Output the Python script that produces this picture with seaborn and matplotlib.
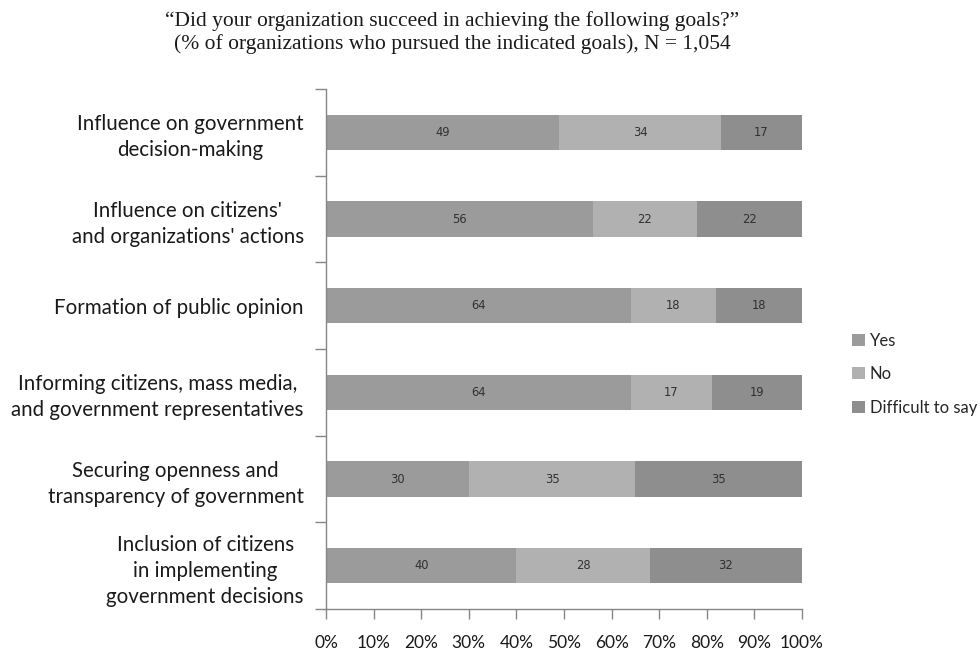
import matplotlib
matplotlib.use("Agg")
import matplotlib.pyplot as plt
import seaborn as sns
import pandas as pd
import numpy as np
from matplotlib.patches import Patch

categories = [
    "Influence on government\ndecision-making",
    "Influence on citizens'\nand organizations' actions",
    "Formation of public opinion",
    "Informing citizens, mass media,\nand government representatives",
    "Securing openness and\ntransparency of government",
    "Inclusion of citizens\nin implementing\ngovernment decisions",
]
yes = [49, 56, 64, 64, 30, 40]
no = [34, 22, 18, 17, 35, 28]
difficult = [17, 22, 18, 19, 35, 32]
series_names = ["Yes", "No", "Difficult to say"]
colors = ["#9b9b9b", "#b1b1b1", "#8e8e8e"]
x_ticks = [0, 10, 20, 30, 40, 50, 60, 70, 80, 90, 100]
title_lines = ["\u201cDid your organization succeed in achieving the following goals?\u201d",
               "(% of organizations who pursued the indicated goals), N = 1,054"]

sns.set_theme(style="white")
plt.rcParams['font.family'] = ['Lato', 'DejaVu Sans']

df = pd.DataFrame({"cat": categories, "Yes": yes, "No": no, "Difficult to say": difficult})
df["c1"] = df["Yes"]
df["c2"] = df["Yes"] + df["No"]
df["c3"] = df["c2"] + df["Difficult to say"]

fig = plt.figure(figsize=(9.8, 6.52), dpi=100)
ax = fig.add_axes([326 / 980, 1 - 609 / 652, 476 / 980, (609 - 89) / 652])

for col, color in zip(["c3", "c2", "c1"], colors[::-1]):
    sns.barplot(data=df, y="cat", x=col, orient="h", color=color, width=0.41,
                ax=ax, saturation=1, linewidth=0, order=categories)

# data labels
for i, cat in enumerate(categories):
    starts = [0, yes[i], yes[i] + no[i]]
    vals = [yes[i], no[i], difficult[i]]
    for s, v in zip(starts, vals):
        ax.text(s + v / 2, i, str(v), ha="center", va="center", fontsize=8.3,
                color="#303030", family="DejaVu Sans")

ax.set_xlim(0, 100)
ax.set_ylim(5.5, -0.5)
ax.set_xticks(x_ticks)
ax.set_xticklabels([f"{t}%" for t in x_ticks], fontsize=12.5, color="#1a1a1a")
ax.set_xlabel("")
ax.set_ylabel("")
ax.set_yticks(range(len(categories)))
ax.set_yticklabels(categories, fontsize=14.8, color="#1a1a1a", multialignment="center",
                   linespacing=1.38)
ax.tick_params(axis="y", length=0, pad=16)
ax.tick_params(axis="x", length=7, width=1, color="#868686", direction="out", pad=12, bottom=True)
# y boundary ticks
ax.set_yticks(np.arange(-0.5, len(categories) + 0.5, 1), minor=True)
ax.tick_params(axis="y", which="minor", length=8, width=1, color="#868686", left=True)
for sp in ["top", "right"]:
    ax.spines[sp].set_visible(False)
for sp in ["left", "bottom"]:
    ax.spines[sp].set_color("#868686")
    ax.spines[sp].set_linewidth(1)

handles = [Patch(facecolor=c, edgecolor="none", label=n) for c, n in zip(colors, series_names)]
fig.legend(handles=handles, loc="center left", bbox_to_anchor=(852 / 980, 1 - 374 / 652),
           frameon=False, fontsize=12, handlelength=0.75, handleheight=0.75,
           handletextpad=0.3, labelspacing=1.05, borderaxespad=0, borderpad=0)

fig.text(452 / 980, 1 - 21 / 652, title_lines[0], ha="center", va="center",
         fontsize=15.5, family="Liberation Serif", color="#1a1a1a")
fig.text(452 / 980, 1 - 44 / 652, title_lines[1], ha="center", va="center",
         fontsize=15.5, family="Liberation Serif", color="#1a1a1a")

fig.savefig("out.png", dpi=100)
